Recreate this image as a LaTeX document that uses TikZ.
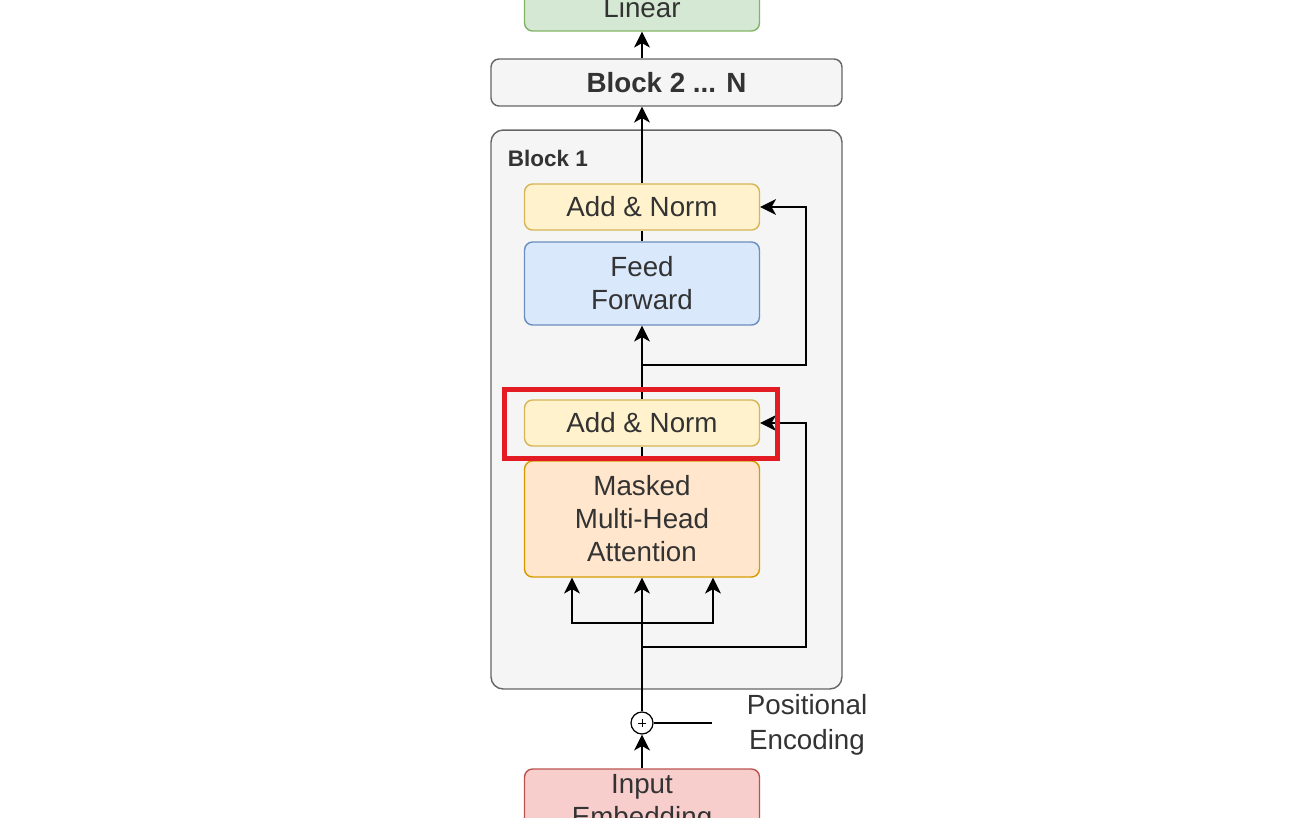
\documentclass[tikz,border=0pt]{standalone}
\usepackage{fontspec}
\setmainfont{Liberation Sans}
\usetikzlibrary{arrows.meta}

\definecolor{txtgray}{HTML}{333333}
\definecolor{blkfill}{HTML}{F5F5F5}
\definecolor{blkline}{HTML}{666666}
\definecolor{linfill}{HTML}{D5E8D4}
\definecolor{linline}{HTML}{82B366}
\definecolor{normfill}{HTML}{FFF2CC}
\definecolor{normline}{HTML}{D6B656}
\definecolor{fffill}{HTML}{DAE8FC}
\definecolor{ffline}{HTML}{6C8EBF}
\definecolor{attfill}{HTML}{FFE6CC}
\definecolor{attline}{HTML}{D79B00}
\definecolor{embfill}{HTML}{F8CECC}
\definecolor{embline}{HTML}{B85450}
\definecolor{markred}{HTML}{E31C23}

\begin{document}
\begin{tikzpicture}[x=0.02cm, y=-0.02cm, >={Stealth[width=9pt,length=9pt,inset=2.5pt]},
    line width=1.1pt,
    box/.style={draw, rounded corners=0.16cm, line width=0.8pt, minimum width=4.7cm,
        align=center, inner sep=0pt, text=txtgray,
        font=\fontsize{15.8}{18.8}\selectfont},
    norm/.style={box, fill=normfill, draw=normline, minimum height=0.92cm},
    blk/.style={box, fill=blkfill, draw=blkline, minimum width=7.02cm}]

    \useasboundingbox (0,0) rectangle (1315,818);
    \clip (0,0) rectangle (1315,818);

    % output side
    \node[box, fill=linfill, draw=linline, minimum height=0.92cm] (lin) at (642,8) {Linear};
    \node[blk, minimum height=0.94cm, font=\fontsize{15.8}{18.8}\selectfont\bfseries] (b2) at (666.5,82.5) {Block 2 ... N};

    % block 1
    \node[blk, rounded corners=0.24cm, minimum height=11.18cm] (b1) at (666.5,409.5) {};
    \node[anchor=west, text=txtgray, font=\fontsize{12.8}{15}\selectfont\bfseries] (b1lbl) at (501,158) {Block 1};

    \node[norm] (an1) at (642,207) {Add \& Norm};
    \node[box, fill=fffill, draw=ffline, minimum height=1.66cm] (ff) at (642,283.5) {Feed\\Forward};
    \node[norm] (an2) at (642,423) {Add \& Norm};
    \node[box, fill=attfill, draw=attline, minimum height=2.32cm] (mha) at (642,519) {Masked\\Multi-Head\\Attention};

    % input side
    \node[circle, draw, line width=0.7pt, fill=white, minimum size=0.44cm, inner sep=0pt] (plus) at (642,723) {};
    \draw[line width=0.5pt] (plus.center) +(-4,0) -- +(4,0) +(0,-4) -- +(0,4);
    \coordinate (pe) at (712,723);
    \node[align=center, text=txtgray, font=\fontsize{15.8}{19.8}\selectfont] (pelbl) at (807,725) {Positional\\Encoding};
    \node[box, fill=embfill, draw=embline, minimum height=1.38cm] (emb) at (642,803.5) {Input\\Embedding};

    % helper points
    \coordinate (s1) at (642,365);
    \coordinate (r1) at (806,365);
    \coordinate (s2) at (642,647);
    \coordinate (r2) at (806,647);
    \coordinate (s3) at (642,623);
    \coordinate (kq) at (572,623);
    \coordinate (vv) at (713,623);

    % connectors
    \draw[->] (lin.south |- b2.north) -- (lin.south);
    \draw[->] (an1.north) -- (an1.north |- b2.south);
    \draw (ff.north) -- (an1.south);
    \draw[->] (an2.north) -- (ff.south);
    \draw[->] (s1) -- (r1) |- (an1.east);
    \draw (mha.north) -- (an2.south);
    \draw[->] (plus.north) -- (mha.south);
    \draw[->] (s3) -- (kq) -- (kq |- mha.south);
    \draw[->] (s3) -- (vv) -- (vv |- mha.south);
    \draw[->] (s2) -- (r2) |- (an2.east);
    \draw (plus.east) -- (pe);
    \draw[->] (emb.north) -- (plus.south);

    % highlight
    \draw[markred, line width=0.1cm] (504,389.5) rectangle (777.5,458.5);
\end{tikzpicture}
\end{document}
